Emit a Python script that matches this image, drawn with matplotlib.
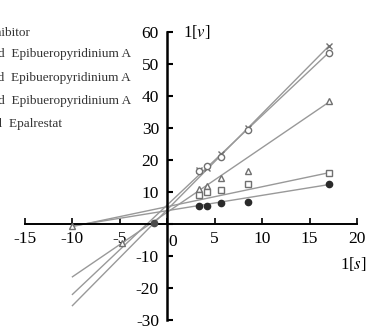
# -*- coding: utf-8 -*-
"""
Lineweaver-Burk double reciprocal plot, 1/[v] vs 1/[s]
"""

import matplotlib
matplotlib.use('Agg')
import matplotlib.pyplot as plt

matplotlib.rcParams['font.family'] = ['Liberation Serif', 'DejaVu Serif']
matplotlib.rcParams['mathtext.fontset'] = 'stix'
matplotlib.rcParams['axes.unicode_minus'] = False

# data
inv_s = [3.3, 4.2, 5.7, 8.5, 17]

v_none = [17, 17.5, 22, 30, 55.5]
v_low = [16.5, 18, 21, 29.5, 53.5]
v_mid = [11, 12, 14.5, 16.5, 38.5]
v_high = [9, 10, 10.5, 12.5, 16]
v_epal = [5.5, 5.5, 6.5, 7, 12.5]

# fitted lines: end points at 1/[s] = -10 and 17
fit_x = [-10, 17]
fit_none = [-25.5, 55.5]
fit_low = [-22, 53.5]
fit_mid = [-16.5, 38]
fit_high = [-0.8, 16]
fit_epal = [-0.6, 12.3]

# extra points on the negative side
neg_x_mid = [-4.8]
neg_y_mid = [-5.8]
neg_x_high = [-10]
neg_y_high = [-0.7]
neg_x_epal = [-1.4]
neg_y_epal = [0.2]

legend_labels = ['No inhibitor',
                 'Low-dosed  Epibueropyridinium A',
                 'Mid-dosed  Epibueropyridinium A',
                 'High-dosed  Epibueropyridinium A',
                 'Positive control  Epalrestat']

x_ticks = [-15, -10, -5, 0, 5, 10, 15, 20]
y_ticks = [-30, -20, -10, 0, 10, 20, 30, 40, 50, 60]

fig = plt.figure(figsize=(3.7, 3.32), dpi=100)
ax = fig.add_axes([25 / 370, 1 - 320 / 332, 332 / 370, 288 / 332])

line_kw = dict(color='#999999', lw=1.0, zorder=2)
ax.plot(fit_x, fit_none, **line_kw)
ax.plot(fit_x, fit_low, **line_kw)
ax.plot(fit_x, fit_mid, **line_kw)
ax.plot(fit_x, fit_high, **line_kw)
ax.plot(fit_x, fit_epal, **line_kw)

mk = dict(ls='none', ms=4.5, mew=1.0, zorder=3)
ax.plot(inv_s, v_none, marker='x', color='#707070', **mk)
ax.plot(inv_s, v_low, marker='o', mfc='white', mec='#707070', **mk)
ax.plot(inv_s, v_mid, marker='^', mfc='white', mec='#707070', **mk)
ax.plot(neg_x_mid, neg_y_mid, marker='^', mfc='white', mec='#707070', **mk)
ax.plot(inv_s, v_high, marker='s', mfc='white', mec='#707070', **mk)
ax.plot(neg_x_high, neg_y_high, marker='^', mfc='white', mec='#707070', **mk)
ax.plot(inv_s, v_epal, marker='o', color='#2a2a2a', **mk)
ax.plot(neg_x_epal, neg_y_epal, marker='o', color='#4a4a4a', **mk)

ax.set_xlim(-15, 20)
ax.set_ylim(-30, 60)

# axes cross at the origin
ax.spines['left'].set_position(('data', 0))
ax.spines['bottom'].set_position(('data', 0))
ax.spines['top'].set_visible(False)
ax.spines['right'].set_visible(False)
ax.spines['left'].set_linewidth(1.8)
ax.spines['bottom'].set_linewidth(1.4)
ax.patch.set_visible(False)

ax.set_xticks(x_ticks)
ax.set_xticklabels([str(t) if t != 0 else '' for t in x_ticks])
ax.set_yticks(y_ticks)
ax.set_yticklabels([str(t) if t != 0 else '' for t in y_ticks])
ax.tick_params(axis='x', direction='in', length=4, width=1.2, pad=5, labelsize=12.5)
ax.tick_params(axis='y', direction='in', length=4, width=1.5, pad=6, labelsize=12.5)

# the "0" of the x axis sits right of the y axis
ax.annotate('0', xy=(0, 0), xytext=(4, -7), textcoords='offset points',
            ha='center', va='top', fontsize=12.5)

# axis names
ax.annotate('1[$v$]', xy=(0, 60), xytext=(11, 0), textcoords='offset points',
            ha='left', va='center', fontsize=12)
ax.annotate('1[$s$]', xy=(20, 0), xytext=(-3, -22), textcoords='offset points',
            ha='center', va='top', fontsize=12)

# legend text, cut by the left edge of the picture as in the source figure
legend_right = [30, 131, 131, 131, 62]
legend_y = [33, 54, 78, 101, 124]
for lab, xr, yy in zip(legend_labels, legend_right, legend_y):
    fig.text(xr / 370, 1 - yy / 332, lab, ha='right', va='center',
             fontsize=9.5, color='#333333')

plt.savefig('out.png', dpi=100)
plt.close()
